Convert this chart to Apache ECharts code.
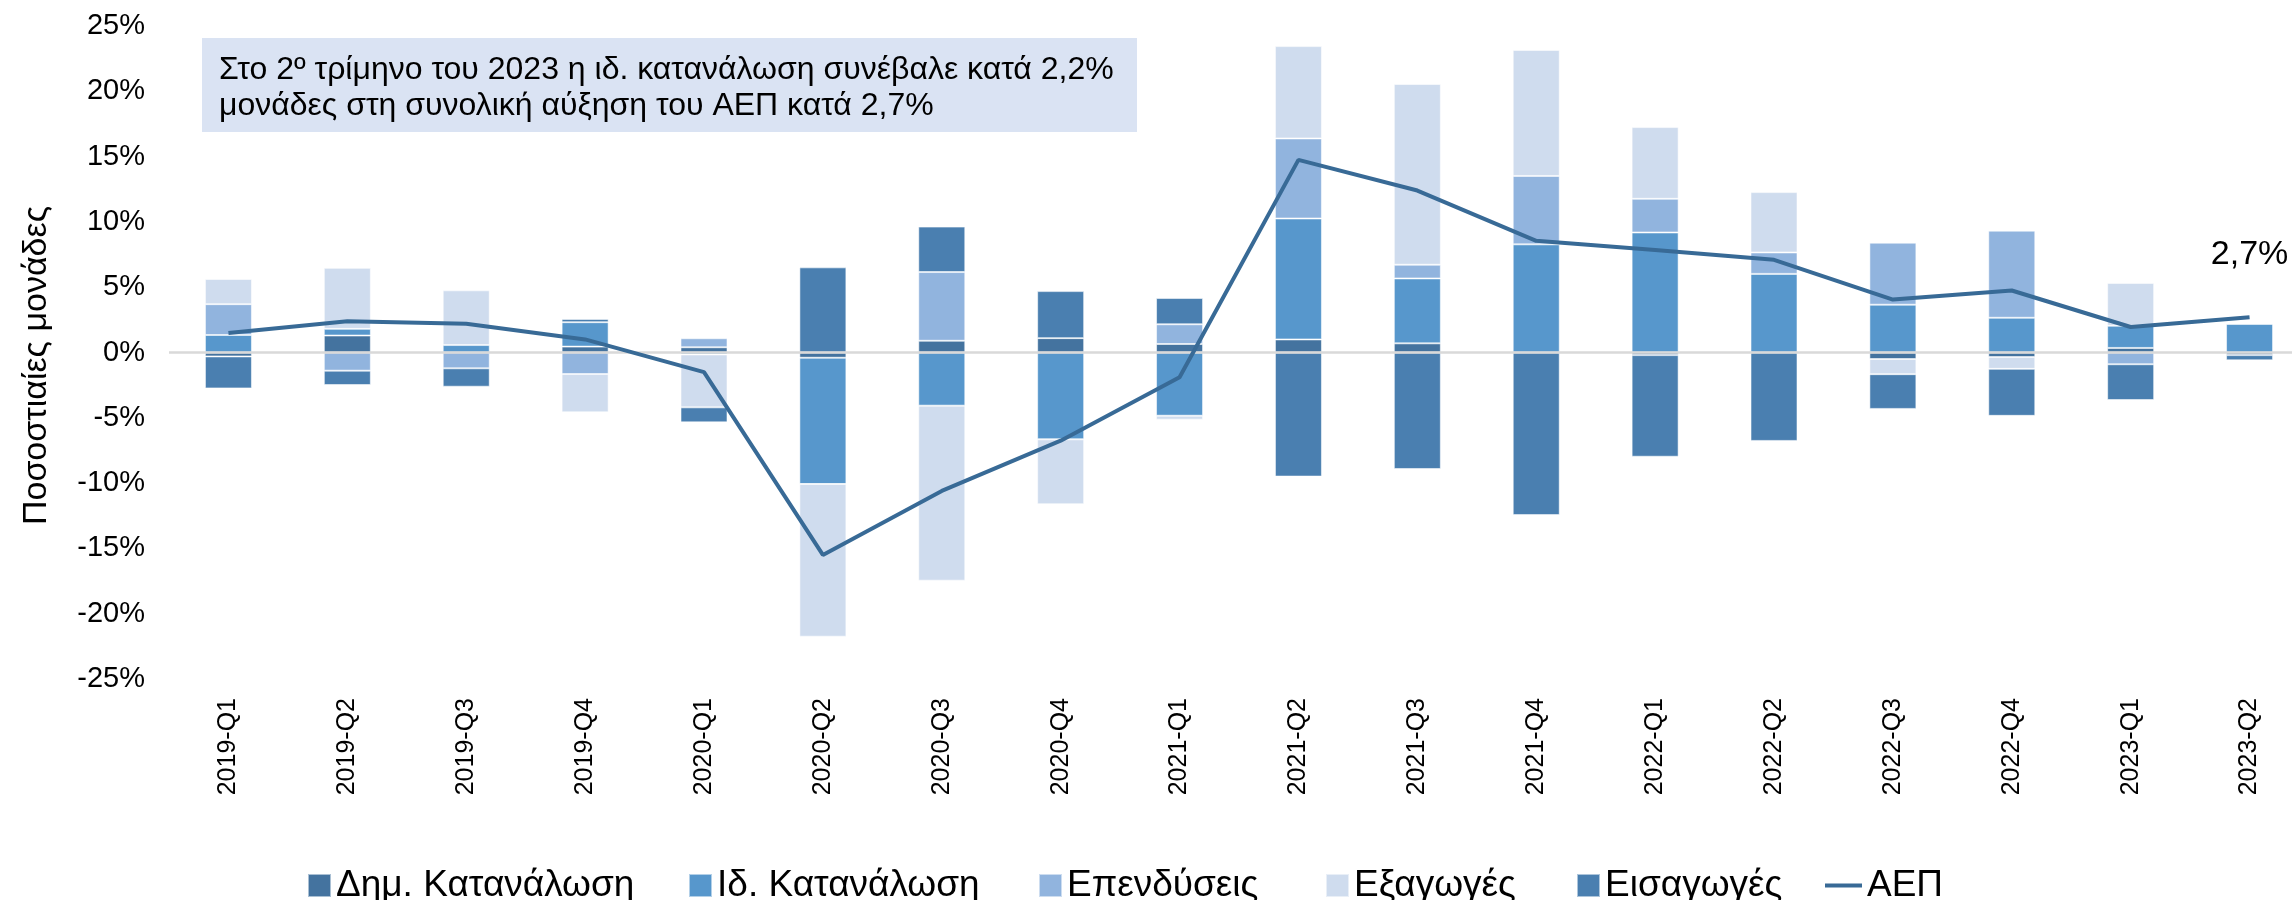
<!DOCTYPE html>
<html>
<head>
<meta charset="utf-8">
<script src="https://cdn.jsdelivr.net/npm/echarts@6/dist/echarts.min.js"></script>
<style>
  html, body { margin: 0; padding: 0; background: #fff; }
  #chart { width: 2292px; height: 900px; }
</style>
</head>
<body>
<div id="chart"></div>
<script>
// τρίμηνα
const quarters = ['2019-Q1', '2019-Q2', '2019-Q3', '2019-Q4', '2020-Q1', '2020-Q2', '2020-Q3', '2020-Q4',
  '2021-Q1', '2021-Q2', '2021-Q3', '2021-Q4', '2022-Q1', '2022-Q2', '2022-Q3', '2022-Q4', '2023-Q1', '2023-Q2']

// συμβολές σε ποσοστιαίες μονάδες
const dimKatanalosi = [-0.3, 1.3, 0, 0.45, 0.4, -0.4, 0.9, 1.1, 0.65, 1.0, 0.7, 0, -0.2, 0, -0.5, -0.35, 0.35, -0.2]
const idKatanalosi = [1.34, 0.51, 0.57, 1.87, -0.15, -9.67, -4.07, -6.65, -4.84, 9.26, 4.97, 8.28, 9.19, 6.02, 3.66, 2.66, 1.7, 2.2]
const ependyseis = [2.36, -1.39, -1.21, -1.65, 0.69, 0, 5.26, 0, 1.51, 6.13, 1.05, 5.24, 2.58, 1.64, 4.75, 6.67, -0.9, 0]
const exagoges = [1.93, 4.67, 4.19, -2.93, -4.05, -11.69, -13.4, -4.97, -0.3, 7.07, 13.84, 9.65, 5.49, 4.62, -1.16, -0.9, 3.28, 0]
const eisagoges = [-2.45, -1.1, -1.41, 0.25, -1.15, 6.52, 3.48, 3.6, 2.01, -9.5, -8.92, -12.45, -7.78, -6.77, -2.66, -3.6, -2.74, -0.4]
const aep = [1.5, 2.4, 2.2, 1.0, -1.5, -15.5, -10.6, -6.75, -1.9, 14.75, 12.4, 8.55, 7.85, 7.1, 4.05, 4.75, 1.95, 2.7]

const yTicks = [-25, 25, 5]
const noteText = 'Στο 2º τρίμηνο του 2023 η ιδ. κατανάλωση συνέβαλε κατά 2,2%\nμονάδες στη συνολική αύξηση του ΑΕΠ κατά 2,7%'

const FONT = '"Liberation Sans", Arial, sans-serif'

const chart = echarts.init(document.getElementById('chart'))

// κοινή μορφή για τις στοιβαγμένες μπάρες
const barSeries = (name, data, color) => ({
  name,
  type: 'bar',
  stack: 'total',
  data,
  barWidth: 47,
  itemStyle: { color, borderColor: 'rgba(255,255,255,0.55)', borderWidth: 1 }
})

// ένα υπόμνημα ανά στοιχείο, για να μπουν στις ίδιες θέσεις με το πρωτότυπο
const legendItem = (name, left, w, h) => ({
  data: [name],
  left,
  top: 862,
  icon: 'rect',
  itemWidth: w,
  itemHeight: h,
  textStyle: { fontSize: 37, fontFamily: FONT, color: '#000' }
})

const lastIdx = aep.length - 1

const option = {
  animation: false,
  backgroundColor: '#fff',
  textStyle: { fontFamily: FONT, color: '#000' },
  grid: { left: 169, top: 26, width: 2140, height: 653, outerBoundsMode: 'none' },
  legend: [
    legendItem('Δημ. Κατανάλωση', 302, 23, 23),
    legendItem('Ιδ. Κατανάλωση', 683, 23, 23),
    legendItem('Επενδύσεις', 1033, 23, 23),
    legendItem('Εξαγωγές', 1320, 23, 23),
    legendItem('Εισαγωγές', 1571, 23, 23),
    legendItem('ΑΕΠ', 1820, 37, 4)
  ],
  xAxis: {
    type: 'category',
    data: quarters,
    axisLine: { show: false },
    axisTick: { show: false },
    axisLabel: { rotate: 90, fontSize: 25, fontFamily: FONT, color: '#000', margin: 19, interval: 0 }
  },
  yAxis: {
    type: 'value',
    min: yTicks[0],
    max: yTicks[1],
    interval: yTicks[2],
    name: 'Ποσοστιαίες μονάδες',
    nameLocation: 'middle',
    nameRotate: 90,
    nameGap: 115,
    nameTextStyle: { fontSize: 34, fontFamily: FONT, color: '#000', padding: [0, 26, 0, 0] },
    axisLine: { show: false },
    axisTick: { show: false },
    splitLine: { show: false },
    axisLabel: { formatter: '{value}%', fontSize: 29, fontFamily: FONT, color: '#000', margin: 24 }
  },
  series: [
    barSeries('Δημ. Κατανάλωση', dimKatanalosi, '#44739f'),
    barSeries('Ιδ. Κατανάλωση', idKatanalosi, '#5797cc'),
    barSeries('Επενδύσεις', ependyseis, '#91b4de'),
    barSeries('Εξαγωγές', exagoges, '#cfdcee'),
    Object.assign(barSeries('Εισαγωγές', eisagoges, '#4a7fb0'), {
      markLine: {
        silent: true,
        symbol: 'none',
        label: { show: false },
        lineStyle: { color: '#d9d9d9', width: 2.5, type: 'solid' },
        data: [{ yAxis: 0 }]
      }
    }),
    {
      name: 'ΑΕΠ',
      type: 'line',
      data: aep.map((v, i) => i === lastIdx
        ? {
            value: v,
            label: {
              show: true,
              position: 'top',
              distance: 46,
              fontSize: 34,
              fontFamily: FONT,
              color: '#000',
              formatter: p => p.value.toFixed(1).replace('.', ',') + '%'
            }
          }
        : v),
      symbol: 'circle',
      symbolSize: 0,
      showSymbol: true,
      color: '#386a96',
      lineStyle: { color: '#386a96', width: 4 },
      z: 5
    }
  ],
  graphic: [
    {
      type: 'rect',
      left: 202,
      top: 38,
      shape: { width: 935, height: 94 },
      style: { fill: '#dae3f3' },
      z: 10
    },
    {
      type: 'text',
      left: 219,
      top: 52,
      style: {
        text: noteText,
        font: '32px ' + FONT,
        fill: '#000',
        lineHeight: 36
      },
      z: 11
    }
  ]
}

chart.setOption(option)
</script>
</body>
</html>
